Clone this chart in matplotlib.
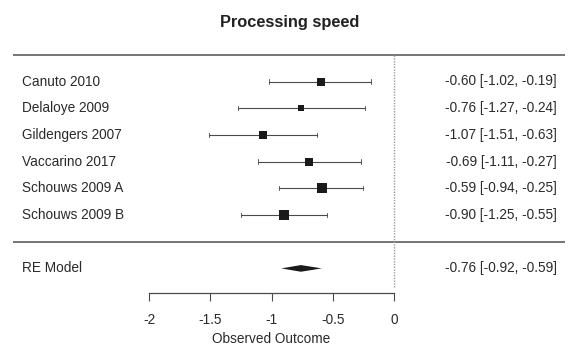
import matplotlib
matplotlib.use("Agg")
import matplotlib.pyplot as plt
import numpy as np

plt.rcParams['font.family'] = ['Liberation Sans', 'DejaVu Sans']

studies = ["Canuto 2010", "Delaloye 2009", "Gildengers 2007", "Vaccarino 2017",
           "Schouws 2009 A", "Schouws 2009 B"]
estimates = [-0.60, -0.76, -1.07, -0.69, -0.59, -0.90]
ci_low = [-1.02, -1.27, -1.51, -1.11, -0.94, -1.25]
ci_high = [-0.19, -0.24, -0.63, -0.27, -0.25, -0.55]
weights = [15.5, 9.5, 16.0, 15.5, 22.0, 21.5]  # relative study weights (%)

re_label = "RE Model"
re_est = -0.76
re_low = -0.92
re_high = -0.59

xticks = [-2, -1.5, -1, -0.5, 0]
xticklabels = ["-2", "-1.5", "-1", "-0.5", "0"]
title = "Processing speed"
xlabel = "Observed Outcome"

W, H = 577, 354
fig = plt.figure(figsize=(W / 100, H / 100), dpi=100)

# pixel mapping: x_px = X0 + XS * x ; y_px = Y0 + YS * row
X0, XS = 394.0, 122.5
Y0, YS = 81.5, 26.7
xlim = (-X0 / XS, (W - X0) / XS)
ylim = ((H - Y0) / YS, -Y0 / YS)

ax = fig.add_axes([0, 0, 1, 1])
ax.set_xlim(*xlim)
ax.set_ylim(*ylim)
ax.axis("off")

TXT = "#2a2a2a"
LINE = "#4a4a4a"
MARK = "#1a1a1a"
FS = 9.8

x_left = (22 - X0) / XS
x_right = (557 - X0) / XS
x_line0 = (13 - X0) / XS
x_line1 = (565 - X0) / XS

rows = np.arange(len(studies))
re_row = len(studies) + 1

# horizontal separators
ax.plot([x_line0, x_line1], [-1, -1], color="#6a6a6a", lw=1.3, solid_capstyle="butt")
ax.plot([x_line0, x_line1], [len(studies), len(studies)], color="#6a6a6a", lw=1.3,
        solid_capstyle="butt")
# reference line at 0
ax.plot([0, 0], [-1, 7.75], color="#9a9a9a", lw=1.0, linestyle=(0, (1, 1)))

# CIs and squares
for r, e, lo, hi, w in zip(rows, estimates, ci_low, ci_high, weights):
    ax.plot([lo, hi], [r, r], color=LINE, lw=0.8)
    ax.plot([lo, lo], [r - 0.08, r + 0.08], color=LINE, lw=0.6)
    ax.plot([hi, hi], [r - 0.08, r + 0.08], color=LINE, lw=0.6)
    side_pt = np.sqrt(w) * 1.45
    ax.plot([e], [r], marker="s", markersize=side_pt, color=MARK, mec=MARK, mew=0)
    ax.text(x_left, r, studies[r], ha="left", va="center", fontsize=FS, color=TXT)
    ax.text(x_right, r, f"{e:.2f} [{lo:.2f}, {hi:.2f}]", ha="right", va="center",
            fontsize=FS, color=TXT)

# summary diamond
dh = 0.125
ax.fill([re_low, re_est, re_high, re_est], [re_row, re_row - dh, re_row, re_row + dh],
        color=MARK, lw=0)
ax.text(x_left, re_row, re_label, ha="left", va="center", fontsize=FS, color=TXT)
ax.text(x_right, re_row, f"{re_est:.2f} [{re_low:.2f}, {re_high:.2f}]", ha="right",
        va="center", fontsize=FS, color=TXT)

ax.text((290 - X0) / XS, (23 - Y0) / YS, title, ha="center", va="center", fontsize=11.8,
        fontweight="bold", color="#222222")

# x axis
ax_y_px = 292.7
ax2 = fig.add_axes([(X0 - 2 * XS) / W, 1 - ax_y_px / H, 2 * XS / W, 0.001])
ax2.set_xlim(-2, 0)
ax2.set_ylim(0, 1)
for s in ["top", "left", "right"]:
    ax2.spines[s].set_visible(False)
ax2.spines["bottom"].set_color(LINE)
ax2.spines["bottom"].set_linewidth(0.9)
ax2.set_yticks([])
ax2.set_xticks(xticks)
ax2.set_xticklabels(xticklabels, fontsize=FS, color=TXT)
ax2.tick_params(axis="x", length=6, width=0.8, color=LINE, pad=8.5)
ax2.patch.set_visible(False)
ax2.set_xlabel(xlabel, fontsize=FS, color=TXT, labelpad=4)

fig.savefig("out.png", dpi=100, facecolor="white")
